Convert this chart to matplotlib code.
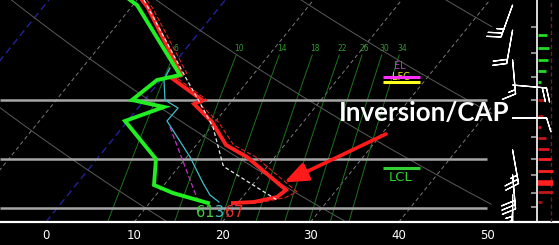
import numpy as np
import matplotlib
matplotlib.use("Agg")
import matplotlib.pyplot as plt

# ---------------- data ----------------
# environmental temperature (deg C) vs pressure (hPa)
temp_p = [501.6, 515.1, 641.2, 651.9, 698.9, 708.2, 751.8, 811.4, 844.4, 942.0, 964.2, 980.3, 983.6]
temp_c = [-9.44, -8.02, 1.76, 1.31, 6.52, 5.98, 9.67, 13.36, 16.84, 24.28, 23.90, 21.75, 19.46]
# virtual temperature (thin dashed red)
tv_p = [501.6, 515.1, 639.0, 652.0, 699.0, 708.0, 752.0, 811.0, 844.0, 948.0, 966.0, 982.0, 985.0]
tv_c = [-8.9, -7.5, 2.3, 1.9, 7.1, 6.6, 10.4, 14.2, 17.8, 25.7, 24.9, 22.5, 20.2]
# dewpoint
dew_p = [501.6, 510.0, 643.3, 654.1, 698.9, 715.3, 749.3, 850.0, 926.6, 951.5, 983.6]
dew_c = [-10.80, -9.55, 1.73, -0.41, -1.42, 2.85, -0.29, 6.70, 8.86, 11.74, 16.63]
# parcel path (white dashed)
parcel_p = [501.6, 649.8, 705.9, 764.4, 867.1, 875.8, 973.8]
parcel_c = [-9.21, 2.69, 6.57, 10.23, 14.85, 15.47, 24.18]
# wet-bulb (cyan)
wetbulb_p = [628.6, 654.1, 698.9, 717.7, 749.3, 844.4, 920.4, 957.8, 980.3]
wetbulb_c = [-0.04, 0.38, 2.32, 4.53, 4.47, 10.38, 14.23, 16.12, 17.78]
# magenta dashed
magenta_p = [764.4, 967.4]
magenta_c = [5.36, 14.92]

# background reference lines
isotherms = [-30, -20, -10, 0, 10, 20, 30, 40]
blue_isotherms = [-20, 0]
dry_adiabats_c = [10, 30, 50, 70, 90]
mixing_ratios = [6, 10, 14, 18, 22, 26, 30, 34]
level_lines = [700, 850, 1000]

# x axis
xticks = [0, 10, 20, 30, 40, 50]

# surface readouts
sfc_labels = ["61", "3", "67"]
sfc_x = [18.08, 19.67, 21.37]
sfc_colors = ["#3fcf3f", "#3fc8c8", "#e83030"]

# parcel levels
el_p, lfc_p, lcl_p = 647.6, 658.4, 875.8

# wind barbs
wind_p = [510.0, 554.1, 612.1, 665.0, 742.0, 825.0, 896.3, 957.8, 1013.4]
wind_dir = [200, 190, 175, 95, 90, 170, 175, 180, 185]
wind_spd = [25, 20, 15, 20, 10, 25, 30, 35, 30]

# right strip bars
green_bar_p = [563.4, 588.2, 612.1, 634.9, 658.4]
green_bar_len = [1.0, 1.25, 1.13, 0.9, 0.34]
red_bar_p = [698.9, 737.0, 764.4, 792.8, 822.3, 850.0, 884.5, 920.4, 948.3, 980.3]
red_bar_len = [0.68, 0.57, 0.34, 0.9, 1.25, 1.47, 1.7, 1.7, 1.7, 0.45]
red_bar_col = ["#b01010", "#b01010", "#d01515", "#c01818", "#e01515", "#ff2020",
               "#ff2020", "#ff2020", "#c01818", "#a01010"]
red_bar_lw = [2, 2, 2, 2, 2, 2, 2, 4, 2, 2]
strip_tick_p = [548.6, 598.0, 647.6, 698.9, 790.2, 850.0, 896.3, 951.5, 996.7]

# ---------------- geometry ----------------
P_BOT, P_TOP = 1047.5, 501.6
SKEW = 27.6
XMIN, XMAX = -5.215, 58.16
XCLIP = 50.6


def skx(t, p):
    return np.asarray(t, float) + SKEW * np.log(P_BOT / np.asarray(p, float))


fig = plt.figure(figsize=(5.59, 2.45), dpi=100, facecolor="black")
ax = fig.add_axes([0, 23 / 245, 1, 222 / 245])
ax.set_facecolor("black")
ax.set_yscale("log")
ax.set_ylim(P_BOT, P_TOP)
ax.set_xlim(XMIN, XMAX)

pp = np.geomspace(P_BOT, P_TOP, 300)


def clipped(x):
    x = np.array(x, float)
    x[x > XCLIP] = np.nan
    return x

# isotherms
for t in isotherms:
    blue = t in blue_isotherms
    ax.plot(clipped(skx(t, pp)), pp, color="#22229a" if blue else "#7a7a7a",
            lw=1.0 if blue else 0.7, ls=(0, (5, 3)) if blue else (0, (4, 3)), zorder=1)

# dry adiabats
for th in dry_adiabats_c:
    tk = (th + 273.15) * (pp / 1000.0) ** 0.2857 - 273.15
    ax.plot(clipped(skx(tk, pp)), pp, color="#5a5a5a", lw=0.7, zorder=1)

# mixing ratio lines
pm = np.geomspace(602, P_BOT, 100)
for w in mixing_ratios:
    e = w * pm / (622.0 + w)
    le = np.log(e / 6.112)
    td = 243.5 * le / (17.67 - le)
    xs = skx(td, pm)
    ax.plot(xs, pm, color="#1d721d", lw=0.7, zorder=1)
    ax.text(xs[0] + 0.3, 590, str(w), color="#2e9a2e", fontsize=5.5,
            ha="center", va="center", zorder=6)

# horizontal level lines
ax.hlines(level_lines, XMIN, 50.0, color="#a6a6a6", lw=1.8, zorder=2)

# profiles
ax.plot(skx(magenta_c, magenta_p), magenta_p, color="#c030c0", lw=0.9, ls=(0, (4, 2)), zorder=3)
ax.plot(skx(wetbulb_c, wetbulb_p), wetbulb_p, color="#40c0cc", lw=0.9, zorder=3)
ax.plot(skx(tv_c, tv_p), tv_p, color="#e02020", lw=0.8, ls=(0, (4, 2)), zorder=3)
ax.plot(skx(temp_c, temp_p), temp_p, color="#ff2020", lw=2.8, zorder=4, solid_joinstyle="miter")
ax.plot(skx(dew_c, dew_p), dew_p, color="#22ee22", lw=2.8, zorder=5, solid_joinstyle="miter")
ax.plot(skx(parcel_c, parcel_p), parcel_p, color="#e8e8e8", lw=0.9, ls=(0, (3, 2)), zorder=6)

# surface readouts
for s, x, c in zip(sfc_labels, sfc_x, sfc_colors):
    ax.text(x, 1015, s, color=c, fontsize=10.5, ha="center", va="center",
            family=["Liberation Sans Narrow", "DejaVu Sans"], zorder=6)

# EL / LFC / LCL
ax.text(40.1, 624.0, "EL", color="#b040c0", fontsize=7, ha="center", va="center", zorder=3)
ax.text(40.2, 647.0, "LFC", color="#e0e020", fontsize=7, ha="center", va="center", zorder=3)
ax.hlines(el_p, 38.2, 42.4, color="#ff30ff", lw=2.2, zorder=4)
ax.hlines(lfc_p, 38.2, 42.4, color="#ffff20", lw=2.2, zorder=4)
ax.hlines(lcl_p, 38.2, 42.4, color="#30d030", lw=2.2, zorder=4)
ax.text(40.25, 902.3, "LCL", color="#30d030", fontsize=9.5, ha="center", va="center", zorder=4)

# annotation
ax.text(42.86, 729.7, "Inversion/CAP", color="white", fontsize=18.6, fontweight="bold",
        family=["Lato", "DejaVu Sans"], ha="center", va="center", zorder=7)
ax.annotate("", xy=(27.0, 918.5), xytext=(38.55, 782.3),
            arrowprops=dict(arrowstyle="-|>,head_length=1.0,head_width=0.4",
                            color="#ff1a1a", lw=2.6, mutation_scale=14,
                            shrinkA=0, shrinkB=0), zorder=7)

# wind barbs
wd = np.deg2rad(wind_dir)
u = -np.array(wind_spd) * np.sin(wd)
v = -np.array(wind_spd) * np.cos(wd)
ax.barbs(np.full(len(wind_p), 52.9), wind_p, u, v, length=7, color="white",
         linewidth=0.9, zorder=6)

# right strip
ax.vlines(55.67, P_BOT, P_TOP, color="white", lw=1.2, zorder=5)
ax.vlines(57.26, P_BOT, P_TOP, color="#6a2020", lw=1.0, ls=(0, (3, 2)), zorder=5)
ax.hlines(strip_tick_p, 55.0, 55.6, color="#8a8a8a", lw=1.5, zorder=5)
ax.hlines(green_bar_p, 55.75, 55.75 + np.array(green_bar_len), color="#22dd22", lw=2, zorder=5)
for p, ln, c, w in zip(red_bar_p, red_bar_len, red_bar_col, red_bar_lw):
    ax.hlines(p, 55.75, 55.75 + ln, color=c, lw=w, zorder=5)

# axes styling
for s in ["top", "left", "right"]:
    ax.spines[s].set_visible(False)
ax.spines["bottom"].set_color("white")
ax.spines["bottom"].set_linewidth(1.6)
ax.set_xticks(xticks)
ax.set_xticklabels([str(t) for t in xticks], color="white", fontsize=8.5)
ax.tick_params(axis="x", length=0, pad=5)
ax.set_yticks([])
ax.yaxis.set_minor_locator(matplotlib.ticker.NullLocator())
ax.set_yticklabels([])

fig.savefig("out.png", dpi=100, facecolor="black")
